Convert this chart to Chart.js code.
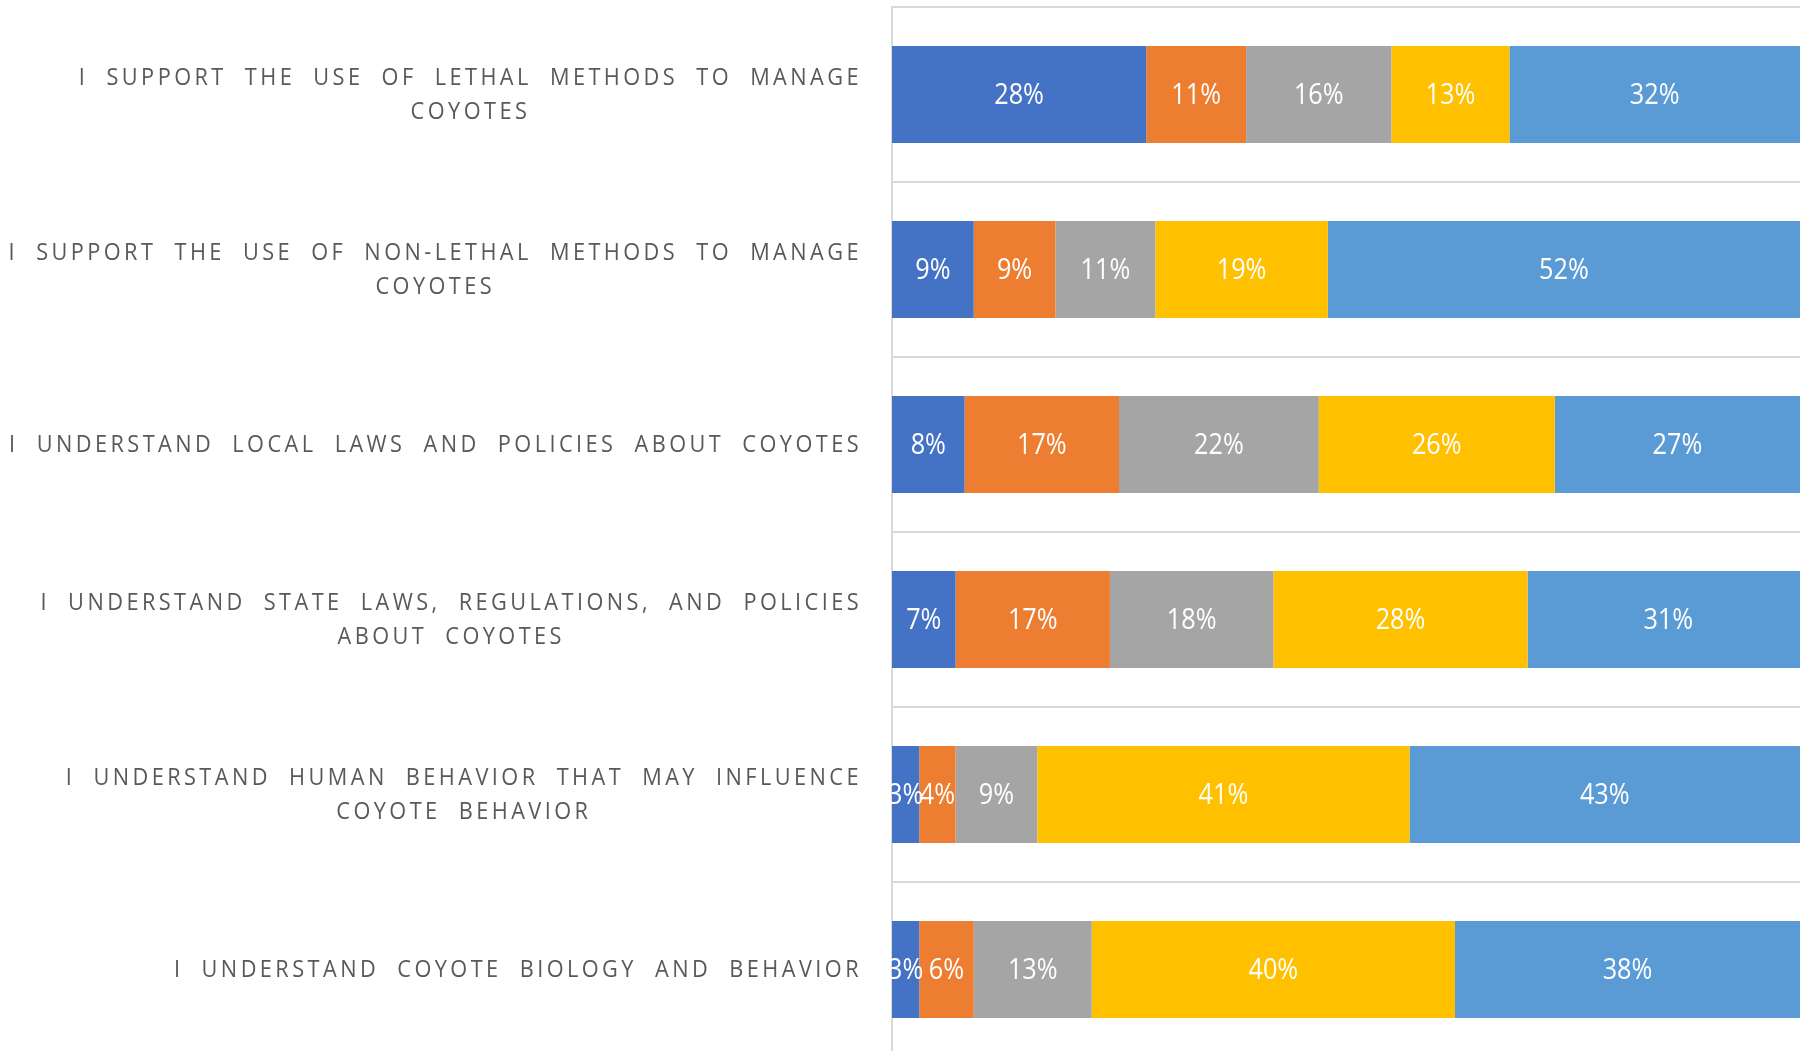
<!DOCTYPE html>
<html><head><meta charset="utf-8">
<script src="https://cdn.jsdelivr.net/npm/chart.js@4.4.1/dist/chart.umd.min.js"></script>
<style>
html,body{margin:0;padding:0;overflow:hidden;background:#fff;width:1807px;height:1051px}
#wrap{width:1807px;height:1062px;position:relative}
</style></head>
<body><div id="wrap"><canvas id="c" width="1807" height="1062"></canvas></div>
<script>
const categories = [
  ["I SUPPORT THE USE OF LETHAL METHODS TO MANAGE", "COYOTES"],
  ["I SUPPORT THE USE OF NON-LETHAL METHODS TO MANAGE", "COYOTES"],
  ["I UNDERSTAND LOCAL LAWS AND POLICIES ABOUT COYOTES"],
  ["I UNDERSTAND STATE LAWS, REGULATIONS, AND POLICIES", "ABOUT COYOTES"],
  ["I UNDERSTAND HUMAN BEHAVIOR THAT MAY INFLUENCE", "COYOTE BEHAVIOR"],
  ["I UNDERSTAND COYOTE BIOLOGY AND BEHAVIOR"]
];
const seriesNames = ["Strongly disagree", "Disagree", "Neutral", "Agree", "Strongly agree"];
const stronglyDisagree = [28, 9, 8, 7, 3, 3];
const disagree         = [11, 9, 17, 17, 4, 6];
const neutral          = [16, 11, 22, 18, 9, 13];
const agree            = [13, 19, 26, 28, 41, 40];
const stronglyAgree    = [32, 52, 27, 31, 43, 38];
const seriesColors = ["#4472C4", "#ED7D31", "#A5A5A5", "#FFC000", "#5B9BD5"];
const seriesValues = [stronglyDisagree, disagree, neutral, agree, stronglyAgree];

const LABEL_FONT = '"Open Sans", sans-serif';

const barLabels = {
  id: 'barLabels',
  afterDatasetsDraw(chart) {
    const ctx = chart.ctx;
    ctx.save();
    ctx.fillStyle = '#ffffff';
    ctx.font = '29px ' + LABEL_FONT;
    ctx.textAlign = 'center';
    ctx.textBaseline = 'middle';
    const sx = 0.87;
    chart.data.datasets.forEach((ds, i) => {
      const meta = chart.getDatasetMeta(i);
      meta.data.forEach((bar, j) => {
        const cx = (bar.x + bar.base) / 2;
        ctx.save();
        ctx.translate(cx, bar.y + 1);
        ctx.scale(sx, 1);
        ctx.fillText(ds.data[j] + '%', 0, 0);
        ctx.restore();
      });
    });
    ctx.restore();
  }
};

const catLabels = {
  id: 'catLabels',
  afterDraw(chart) {
    const ctx = chart.ctx;
    const ys = chart.scales.y;
    const sx = 0.905;
    ctx.save();
    ctx.fillStyle = '#595959';
    ctx.font = '24px ' + LABEL_FONT;
    ctx.letterSpacing = '3.8px';
    ctx.wordSpacing = '10px';
    ctx.textAlign = 'center';
    ctx.textBaseline = 'middle';
    const rightEdge = ys.left + ys.width - 30;
    const lineH = 34;
    chart.data.labels.forEach((lines, j) => {
      const y = ys.getPixelForValue(j) + 1;
      const w = Math.max(...lines.map(l => ctx.measureText(l).width)) * sx;
      const cx = rightEdge - w / 2;
      const y0 = y - (lines.length - 1) * lineH / 2;
      lines.forEach((l, k) => {
        ctx.save();
        ctx.translate(cx, y0 + k * lineH);
        ctx.scale(sx, 1);
        ctx.fillText(l, 0, 0);
        ctx.restore();
      });
    });
    ctx.restore();
  }
};

new Chart(document.getElementById('c'), {
  type: 'bar',
  data: {
    labels: categories,
    datasets: seriesValues.map((vals, i) => ({
      label: seriesNames[i],
      data: vals,
      backgroundColor: seriesColors[i],
      borderWidth: 0,
      barPercentage: 0.555,
      categoryPercentage: 1
    }))
  },
  options: {
    indexAxis: 'y',
    responsive: false,
    devicePixelRatio: 1,
    animation: false,
    layout: { padding: { top: 7, right: 7, bottom: 5, left: 0 } },
    plugins: { legend: { display: false }, tooltip: { enabled: false } },
    scales: {
      x: { stacked: true, min: 0, max: 100, display: false },
      y: {
        stacked: true,
        afterFit(s) { s.width = 892; },
        ticks: { display: false },
        grid: { color: '#d9d9d9', lineWidth: 2, drawTicks: false, offset: true },
        border: { display: true, color: '#d9d9d9', width: 2 }
      }
    }
  },
  plugins: [barLabels, catLabels]
});
</script>
</body></html>
